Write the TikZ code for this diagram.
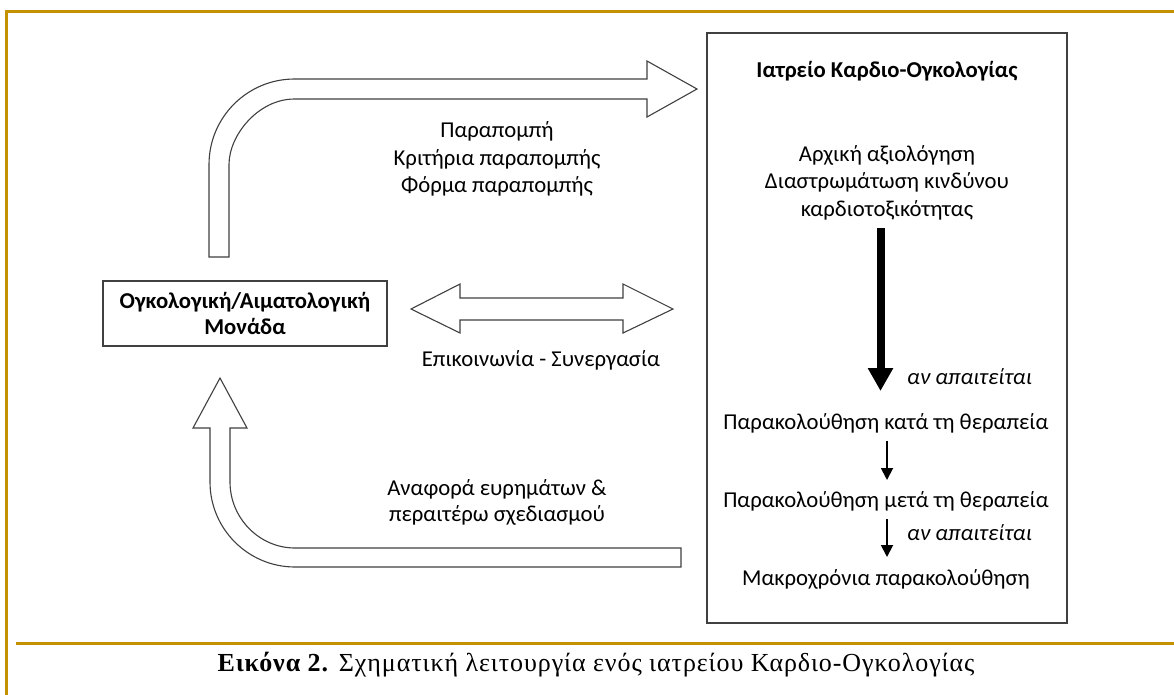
\documentclass[tikz,border=0pt]{standalone}
\usepackage{fontspec}
\setmainfont{Carlito}
\newfontfamily\capfont[LetterSpace=3.5]{Liberation Serif}
\usetikzlibrary{arrows.meta}
\definecolor{gold}{RGB}{196,146,0}
\definecolor{edge}{RGB}{64,64,64}
\begin{document}
\begin{tikzpicture}[x=1pt,y=-1pt,
  txt/.style={font=\fontsize{22.7}{26}\selectfont, anchor=base, inner sep=0pt},
  boldtxt/.style={txt, font=\fontsize{22.7}{26}\selectfont\bfseries},
  itxt/.style={txt, font=\fontsize{22.7}{26}\selectfont\itshape, anchor=base west},
  blockarrow/.style={draw=edge, line width=1.1pt, fill=white, line join=miter},
  smallarrow/.style={line width=1.8pt, -{Triangle[width=12pt,length=12pt]}},
  bigarrow/.style={line width=8pt, -{Triangle[width=24pt,length=23pt]}},
  frameline/.style={draw=gold, line width=2.8pt}]
\useasboundingbox (0,0) rectangle (1174,694);

% gold frame and caption rule
\draw[frameline] (6.3,700) -- (6.3,11.5) -- (1180,11.5);
\draw[frameline] (16,643.3) -- (1180,643.3);

% left unit box
\draw[edge, line width=1.2pt] (103,281) rectangle (387,346);
\node[boldtxt] (unit1) at (245,308.3) {Ογκολογική/Αιματολογική};
\node[boldtxt] (unit2) at (245,334) {Μονάδα};

% clinic box
\draw[edge, line width=1.2pt] (707,33) rectangle (1067,623);
\node[boldtxt] (clinic) at (887,77.3) {Ιατρείο Καρδιο-Ογκολογίας};
\node[txt] (init1) at (887,161) {Αρχική αξιολόγηση};
\node[txt] (init2) at (887,188.7) {Διαστρωμάτωση κινδύνου};
\node[txt] (init3) at (887,216.4) {καρδιοτοξικότητας};
\node[txt] (during) at (886,429.3) {Παρακολούθηση κατά τη θεραπεία};
\node[txt] (after) at (886,507.7) {Παρακολούθηση μετά τη θεραπεία};
\node[txt] (long) at (886,585) {Μακροχρόνια παρακολούθηση};
\node[itxt] (req1) at (907,384) {αν απαιτείται};
\node[itxt] (req2) at (907,540.7) {αν απαιτείται};

% flow inside the clinic
\coordinate (b1) at (880.5,228);
\coordinate (b2) at (880.5,391);
\draw[bigarrow] (b1) -- (b2);
\coordinate (s1a) at (887,441);
\coordinate (s1b) at (887,480);
\draw[smallarrow] (s1a) -- (s1b);
\coordinate (s2a) at (887,519);
\coordinate (s2b) at (887,557);
\draw[smallarrow] (s2a) -- (s2b);

% referral arrow (unit -> clinic)
\draw[blockarrow] (209,257) -- (209,164.5)
  .. controls (209,117.3) and (247.3,79) .. (294.5,79)
  -- (647,79) -- (647,61) -- (697,89) -- (647,117) -- (647,99) -- (294.5,99)
  .. controls (258.3,99) and (229,135.2) .. (229,164.5)
  -- (229,257) -- cycle;
\node[txt] (ref1) at (497,137) {Παραπομπή};
\node[txt] (ref2) at (497,165.7) {Κριτήρια παραπομπής};
\node[txt] (ref3) at (497,192.7) {Φόρμα παραπομπής};

% communication arrow
\draw[blockarrow] (411,309) -- (460,284) -- (460,298) -- (623,298) -- (623,284)
  -- (673,309) -- (623,333) -- (623,320) -- (460,320) -- (460,333) -- cycle;
\node[txt] (comm) at (541,366) {Επικοινωνία - Συνεργασία};

% report arrow (clinic -> unit)
\draw[blockarrow] (681,548) -- (295,548)
  .. controls (259.1,548) and (230,517.9) .. (230,482)
  -- (230,428) -- (247,428) -- (220,378) -- (193,428) -- (210,428) -- (210,482)
  .. controls (210,528.9) and (248.1,567) .. (295,567)
  -- (681,567) -- cycle;
\node[txt] (rep1) at (497,495) {Αναφορά ευρημάτων \&};
\node[txt] (rep2) at (497,521.7) {περαιτέρω σχεδιασμού};

% caption
\node[anchor=base, inner sep=0pt, font=\capfont\fontsize{26}{30}\selectfont] (cap) at (596,671)
  {\textbf{Εικόνα 2.} Σχηματική λειτουργία ενός ιατρείου Καρδιο-Ογκολογίας};
\end{tikzpicture}
\end{document}
